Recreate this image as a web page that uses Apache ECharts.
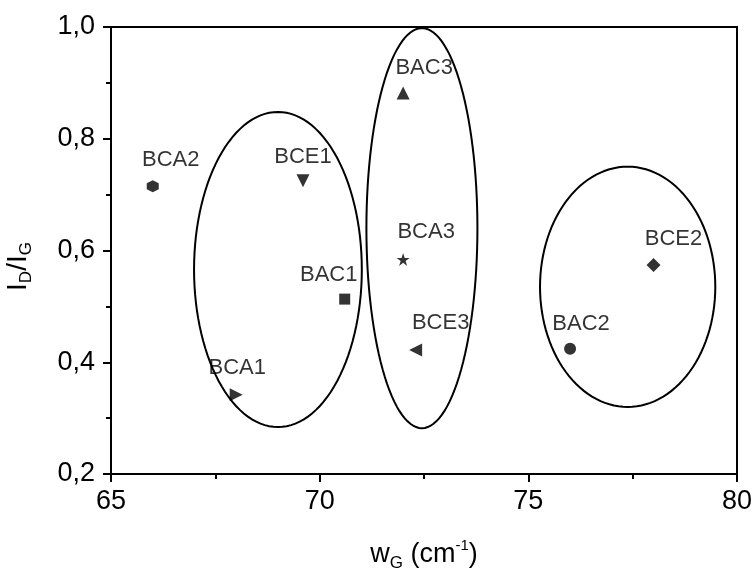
<!DOCTYPE html>
<html>
<head>
<meta charset="utf-8">
<script src="https://cdn.jsdelivr.net/npm/echarts@6/dist/echarts.min.js"></script>
<style>
  html, body { margin: 0; padding: 0; background: #fff; }
  #main { width: 755px; height: 579px; }
</style>
</head>
<body>
<div id="main"></div>
<script>
// sample points
var names = ['BCA2', 'BCE1', 'BAC1', 'BCA1', 'BAC3', 'BCA3', 'BCE3', 'BAC2', 'BCE2'];
var wG = [66.0, 69.6, 70.6, 68.0, 72.0, 72.0, 72.3, 76.0, 78.0];
var ratio = [0.715, 0.725, 0.513, 0.342, 0.882, 0.584, 0.422, 0.424, 0.574];

// group ellipses (centre and half axes, in data units)
var ellCx = [69.0, 72.45, 77.38];
var ellCy = [0.566, 0.640, 0.535];
var ellRx = [2.01, 1.33, 2.10];
var ellRy = [0.282, 0.358, 0.215];

var xTicks = [65, 70, 75, 80];
var yTicks = [0.2, 0.4, 0.6, 0.8, 1.0];

// marker per point
var hexagon = 'path://M0,-1 L0.866,-0.5 L0.866,0.5 L0,1 L-0.866,0.5 L-0.866,-0.5 Z';
var star = 'path://M0,-1 L0.224,-0.309 L0.951,-0.309 L0.363,0.118 L0.588,0.809 L0,0.382 L-0.588,0.809 L-0.363,0.118 L-0.951,-0.309 L-0.224,-0.309 Z';
var markers = {
  BCA2: { symbol: hexagon, size: 12, rotate: 0, off: [18, -26] },
  BCE1: { symbol: 'triangle', size: 13, rotate: 180, off: [0, -24] },
  BAC1: { symbol: 'rect', size: 11, rotate: 0, off: [-16, -24] },
  BCA1: { symbol: 'triangle', size: 13, rotate: -90, off: [1, -27] },
  BAC3: { symbol: 'triangle', size: 13, rotate: 0, off: [21, -25] },
  BCA3: { symbol: star, size: 13, rotate: 0, off: [23, -28] },
  BCE3: { symbol: 'triangle', size: 13, rotate: 90, off: [25, -27] },
  BAC2: { symbol: 'circle', size: 12, rotate: 0, off: [11, -25] },
  BCE2: { symbol: 'diamond', size: 14, rotate: 0, off: [20, -26] }
};

var FONT = 'Liberation Sans';

var pointData = names.map(function (n, i) {
  var m = markers[n];
  return {
    name: n,
    value: [wG[i], ratio[i]],
    symbol: m.symbol,
    symbolSize: m.size,
    symbolRotate: m.rotate,
    label: { offset: m.off }
  };
});

var ellData = ellCx.map(function (c, i) {
  return [c, ellCy[i], ellRx[i], ellRy[i]];
});

var myChart = echarts.init(document.getElementById('main'));

var option = {
  animation: false,
  backgroundColor: '#fff',
  grid: {
    left: 111, right: 18, top: 27, bottom: 105,
    outerBoundsMode: 'none',
    show: true, borderColor: '#000', borderWidth: 2
  },
  xAxis: {
    type: 'value',
    min: xTicks[0], max: xTicks[xTicks.length - 1], interval: 5,
    name: '{b|w}{sub|G}{b| (cm}{sup|-1}{b|)}',
    nameLocation: 'middle',
    nameGap: 64,
    nameTextStyle: {
      rich: {
        b: { fontFamily: FONT, fontSize: 27, color: '#000', lineHeight: 34 },
        sub: { fontFamily: FONT, fontSize: 17, color: '#000', lineHeight: 12, verticalAlign: 'bottom' },
        sup: { fontFamily: FONT, fontSize: 15, color: '#000', lineHeight: 12, verticalAlign: 'top' }
      }
    },
    axisLine: { show: true, lineStyle: { color: '#000', width: 2 } },
    axisTick: { show: true, inside: false, length: 8, lineStyle: { color: '#000', width: 2 } },
    minorTick: { show: true, splitNumber: 2, length: 5, lineStyle: { color: '#000', width: 2 } },
    axisLabel: { color: '#000', fontFamily: FONT, fontSize: 27, margin: 14 },
    splitLine: { show: false }
  },
  yAxis: {
    type: 'value',
    min: yTicks[0], max: yTicks[yTicks.length - 1], interval: 0.2,
    // trailing spacer pushes the visible text a little below the axis middle
    name: '{b|I}{sub|D}{b|/I}{sub|G}{gap|}',
    nameLocation: 'middle',
    nameRotate: 90,
    nameGap: 76,
    nameTextStyle: {
      rich: {
        b: { fontFamily: FONT, fontSize: 28, color: '#000', lineHeight: 34 },
        sub: { fontFamily: FONT, fontSize: 17, color: '#000', lineHeight: 10, verticalAlign: 'bottom' },
        gap: { width: 32, lineHeight: 34 }
      }
    },
    axisLine: { show: true, lineStyle: { color: '#000', width: 2 } },
    axisTick: { show: true, inside: false, length: 8, lineStyle: { color: '#000', width: 2 } },
    minorTick: { show: true, splitNumber: 2, length: 5, lineStyle: { color: '#000', width: 2 } },
    axisLabel: {
      color: '#000', fontFamily: FONT, fontSize: 27, margin: 16,
      formatter: function (v) { return v.toFixed(1).replace('.', ','); }
    },
    splitLine: { show: false }
  },
  series: [
    {
      type: 'custom',
      name: 'groups',
      clip: false,
      silent: true,
      data: ellData,
      encode: { x: 0, y: 1 },
      renderItem: function (params, api) {
        var cx = api.value(0), cy = api.value(1), rx = api.value(2), ry = api.value(3);
        var pts = [];
        for (var k = 0; k <= 120; k++) {
          var t = k / 120 * Math.PI * 2;
          pts.push(api.coord([cx + rx * Math.cos(t), cy + ry * Math.sin(t)]));
        }
        return {
          type: 'polygon',
          shape: { points: pts },
          style: { fill: 'none', stroke: '#000', lineWidth: 2 }
        };
      },
      z: 1
    },
    {
      type: 'scatter',
      name: 'samples',
      data: pointData,
      itemStyle: { color: '#000' },
      label: {
        show: true,
        position: 'inside',
        formatter: '{b}',
        color: '#000',
        textBorderWidth: 0,
        fontFamily: FONT,
        fontSize: 22
      },
      z: 3
    }
  ]
};

myChart.setOption(option, true);
</script>
</body>
</html>
